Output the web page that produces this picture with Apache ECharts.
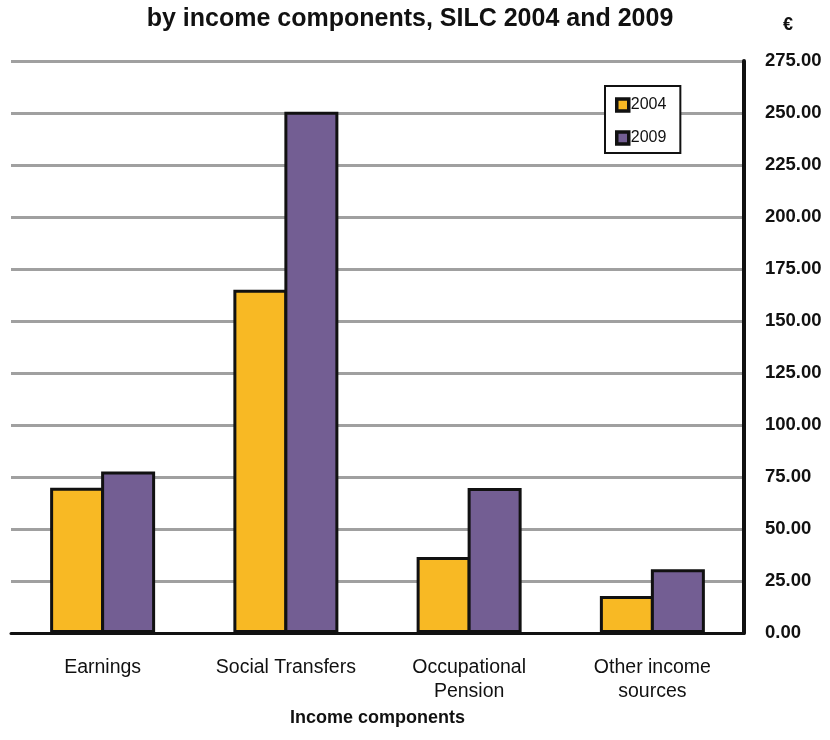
<!DOCTYPE html>
<html>
<head>
<meta charset="utf-8">
<script src="https://cdn.jsdelivr.net/npm/echarts@6/dist/echarts.min.js"></script>
<style>
  html, body { margin: 0; padding: 0; background: #ffffff; }
  #chart { width: 830px; height: 740px; }
</style>
</head>
<body>
<div id="chart"></div>
<script>
// Income components and average weekly amounts (€) for the two survey years
const categories = ['Earnings', 'Social Transfers', 'Occupational\nPension', 'Other income\nsources'];
const values2004 = [69.8, 165.0, 36.5, 17.8];
const values2009 = [77.7, 250.6, 69.7, 30.6];
const seriesNames = ['2004', '2009'];
const titleText = 'by income components, SILC 2004 and 2009';
const xAxisTitle = 'Income components';
const yAxisUnit = '€';

const FONT = "'Liberation Sans', Arial, sans-serif";
const OUTLINE = '#111111';

const chart = echarts.init(document.getElementById('chart'), null, { renderer: 'canvas' });

// Bars of a pair share their inner edge: a 3px overlap leaves one outline between them
const BAR_W = 54;
const BAR_GAP = (-3 / BAR_W * 100).toFixed(2) + '%';

chart.setOption({
  backgroundColor: '#ffffff',
  animation: false,
  title: {
    text: titleText,
    left: 405,
    top: 2,
    textAlign: 'center',
    textStyle: { fontFamily: FONT, fontSize: 25, fontWeight: 'bold', color: '#111' }
  },
  legend: {
    orient: 'vertical',
    left: 605,
    top: 86,
    padding: [11, 14, 7, 10],
    itemGap: 17,
    itemWidth: 12,
    itemHeight: 12,
    itemStyle: { borderColor: OUTLINE, borderWidth: 3.5 },
    backgroundColor: '#ffffff',
    borderColor: OUTLINE,
    borderWidth: 2,
    borderRadius: 0,
    icon: 'rect',
    textStyle: { fontFamily: FONT, fontSize: 16, color: '#111', padding: [0, 0, 0, -3] },
    data: seriesNames
  },
  grid: { left: 11, right: 86, top: 61, bottom: 107, containLabel: false },
  xAxis: {
    type: 'category',
    data: categories,
    name: xAxisTitle,
    nameLocation: 'middle',
    nameGap: 51,
    nameTextStyle: { fontFamily: FONT, fontSize: 18, fontWeight: 'bold', color: '#111' },
    axisLine: { show: true, onZero: true, lineStyle: { color: OUTLINE, width: 3 } },
    axisTick: { show: false },
    axisLabel: {
      fontFamily: FONT, fontSize: 19.5, color: '#111',
      margin: 23, lineHeight: 24, interval: 0
    },
    splitLine: { show: false }
  },
  yAxis: {
    type: 'value',
    position: 'right',
    min: 0,
    max: 275,
    interval: 25,
    name: yAxisUnit,
    nameLocation: 'end',
    nameGap: 27,
    nameTextStyle: {
      fontFamily: FONT, fontSize: 18, fontWeight: 'bold', color: '#111',
      align: 'left', padding: [0, 0, 0, 39]
    },
    axisLine: { show: true, lineStyle: { color: OUTLINE, width: 4 } },
    axisTick: { show: false },
    axisLabel: {
      fontFamily: FONT, fontSize: 18.5, fontWeight: 'bold', color: '#111',
      margin: 21,
      formatter: v => v.toFixed(2)
    },
    splitLine: { show: true, lineStyle: { color: '#a0a0a0', width: 3 } }
  },
  series: [
    {
      name: seriesNames[0],
      type: 'bar',
      data: values2004,
      barWidth: BAR_W,
      barGap: BAR_GAP,
      itemStyle: { color: '#f8b924', borderColor: OUTLINE, borderWidth: 3 }
    },
    {
      name: seriesNames[1],
      type: 'bar',
      data: values2009,
      barWidth: BAR_W,
      barGap: BAR_GAP,
      itemStyle: { color: '#735e93', borderColor: OUTLINE, borderWidth: 3 }
    }
  ]
});
</script>
</body>
</html>
